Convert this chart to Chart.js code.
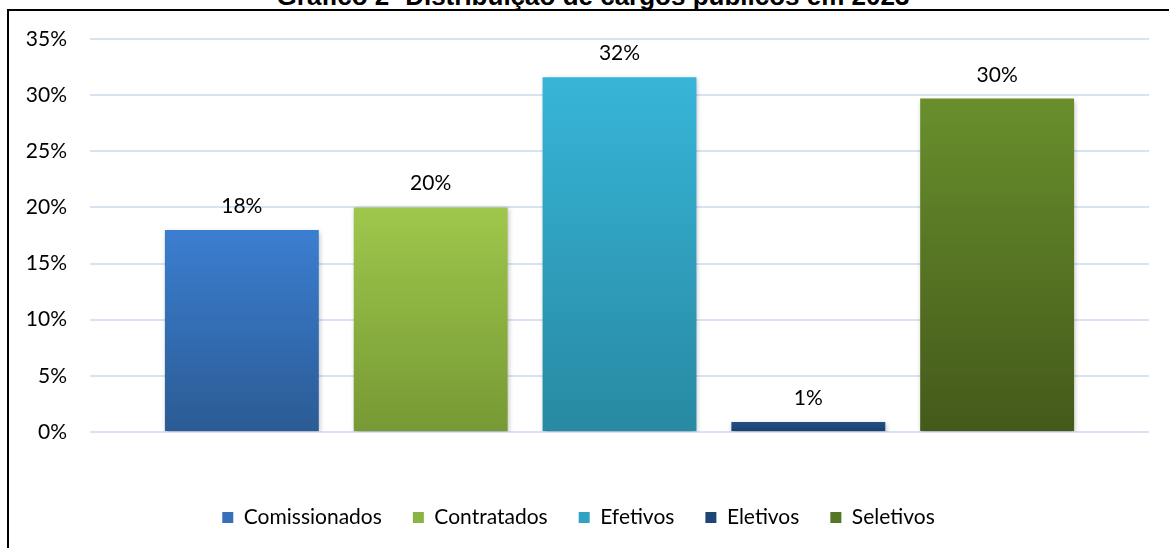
<!DOCTYPE html>
<html lang="pt">
<head>
  <meta charset="UTF-8">
  <title>Gráfico 2- Distribuição de cargos públicos em 2023</title>
  <script src="https://cdn.jsdelivr.net/npm/chart.js"></script>
  <style>
    body {
      margin: 0;
      padding: 0;
      background-color: #fff;
      overflow: hidden;
    }
    #titulo {
      position: absolute;
      left: 0;
      width: 1186px;
      top: -19px;
      text-align: center;
      font-family: 'Liberation Sans', Arial, sans-serif;
      font-weight: bold;
      font-size: 26px;
      color: #000;
      white-space: nowrap;
    }
    #moldura {
      position: absolute;
      left: 7px;
      top: 9px;
      width: 1170px;
      height: 560px;
      border-left: 2px solid #000;
      border-top: 2px solid #000;
    }
    #grafico-box {
      position: absolute;
      left: 0;
      top: 0;
      width: 1169px;
      height: 548px;
    }
  </style>
</head>
<body>

  <div id="titulo">Gráfico 2- Distribuição de cargos públicos em 2023</div>
  <div id="moldura"></div>
  <div id="grafico-box">
    <canvas id="grafico-cargos"></canvas>
  </div>

  <script>
    // dados (%)
    var categorias = ['Comissionados', 'Contratados', 'Efetivos', 'Eletivos', 'Seletivos'];
    var valores = [18, 20, 31.6, 0.9, 29.7];
    var ticksY = [0, 5, 10, 15, 20, 25, 30, 35];

    // cores (topo / base do degradê)
    var coresTopo = ['#3b7ed0', '#9fc74c', '#37b5d8', '#20508a', '#688f2c'];
    var coresBase = ['#2b5b94', '#769934', '#2889a2', '#1b3f6c', '#44591a'];
    var coresLegenda = ['#3670bb', '#8ab442', '#30a3c2', '#1e4675', '#557624'];

    function degrade(i) {
      return function (ctx) {
        var chart = ctx.chart;
        if (!chart.chartArea) return coresTopo[i];
        var y = chart.scales.y;
        var topo = y.getPixelForValue(valores[i]);
        var base = y.getPixelForValue(0);
        if (base - topo < 1) return coresBase[i];
        var g = chart.ctx.createLinearGradient(0, topo, 0, base);
        g.addColorStop(0, coresTopo[i]);
        g.addColorStop(1, coresBase[i]);
        return g;
      };
    }

    var datasets = categorias.map(function (nome, i) {
      return {
        label: nome,
        data: [valores[i]],
        backgroundColor: degrade(i),
        borderWidth: 0
      };
    });

    // sombra leve nas barras
    var sombraBarras = {
      id: 'sombraBarras',
      beforeDatasetsDraw: function (chart) {
        var c = chart.ctx;
        c.save();
        c.shadowColor = 'rgba(0,0,0,0.28)';
        c.shadowBlur = 5;
        c.shadowOffsetX = 1;
        c.shadowOffsetY = 2;
      },
      afterDatasetsDraw: function (chart) {
        chart.ctx.restore();
      }
    };

    // rótulos de valor acima das barras
    var rotulos = {
      id: 'rotulos',
      afterDatasetsDraw: function (chart) {
        var c = chart.ctx;
        c.save();
        c.font = '21px Lato, sans-serif';
        c.fillStyle = '#000';
        c.textAlign = 'center';
        c.textBaseline = 'alphabetic';
        chart.data.datasets.forEach(function (ds, i) {
          var barra = chart.getDatasetMeta(i).data[0];
          c.fillText(Math.round(ds.data[0]) + '%', barra.x, barra.y - 17);
        });
        c.restore();
      }
    };

    var ctx = document.getElementById('grafico-cargos').getContext('2d');
    var grafico = new Chart(ctx, {
      type: 'bar',
      data: {
        labels: [''],
        datasets: datasets
      },
      plugins: [sombraBarras, rotulos],
      options: {
        responsive: true,
        maintainAspectRatio: false,
        animation: false,
        categoryPercentage: 0.8915,
        barPercentage: 0.815,
        layout: {
          padding: { left: 8, right: 20, top: 39, bottom: 10 }
        },
        scales: {
          x: {
            afterFit: function (s) { s.height = 44; },
            border: { display: false },
            grid: { display: false, drawTicks: false },
            ticks: { display: false }
          },
          y: {
            min: 0,
            max: 35,
            afterFit: function (s) { s.width = 82; },
            afterBuildTicks: function (s) {
              s.ticks = ticksY.map(function (v) { return { value: v }; });
            },
            border: { display: false },
            grid: {
              color: '#d7e2f3',
              lineWidth: 2,
              drawTicks: false
            },
            ticks: {
              padding: 23,
              color: '#000',
              font: { family: 'Lato', size: 21 },
              callback: function (v) { return v + '%'; }
            }
          }
        },
        plugins: {
          legend: {
            position: 'bottom',
            labels: {
              boxWidth: 11,
              boxHeight: 11,
              padding: 31,
              color: '#000',
              font: { family: 'Lato', size: 21 },
              generateLabels: function (chart) {
                return chart.data.datasets.map(function (ds, i) {
                  return {
                    text: ds.label,
                    fillStyle: coresLegenda[i],
                    strokeStyle: coresLegenda[i],
                    lineWidth: 0,
                    datasetIndex: i
                  };
                });
              }
            }
          },
          tooltip: { enabled: false }
        }
      }
    });
  </script>

</body>
</html>
